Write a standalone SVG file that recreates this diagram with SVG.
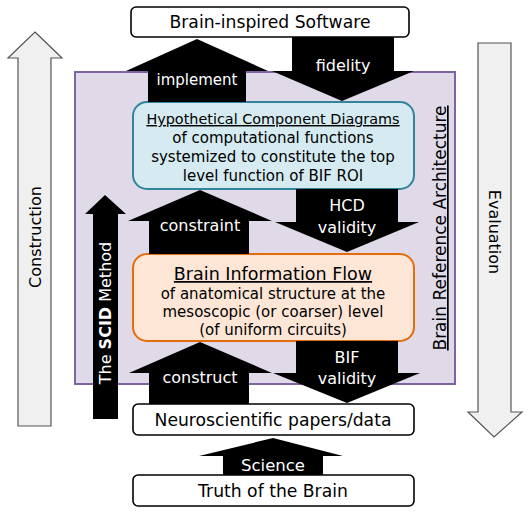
<svg xmlns="http://www.w3.org/2000/svg" width="529" height="515" viewBox="0 0 529 515">
<style>
text{font-family:"DejaVu Sans","Liberation Sans",sans-serif;text-anchor:middle}
.box{fill:#fff;stroke:#000;stroke-width:1.6}
.t{font-size:17.2px;fill:#000}
.w{font-size:16px;fill:#fff}
.in{font-size:15px;fill:#000}
.big{fill:#000}
.side{fill:#f0f0f0;stroke:#555;stroke-width:1.2}
.st{font-size:16px;fill:#000}
</style>
<rect width="529" height="515" fill="#fff"/>
<g id="construction">
<polygon class="side" points="35,32 62,58 51,58 51,426 18,426 18,58 8,58"/>
<text class="st" transform="translate(41,237) rotate(-90)">Construction</text>
</g>
<g id="evaluation">
<polygon class="side" points="478,43 511,43 511,412 522,412 494,437 468,412 478,412"/>
<text class="st" transform="translate(489,232) rotate(90)">Evaluation</text>
</g>
<g id="bra">
<rect x="75" y="72" width="380" height="312" fill="#e0d9e8" stroke="#8064a2" stroke-width="2"/>
<text class="st" style="font-size:17px" text-decoration="underline" transform="translate(446,228) rotate(-90)">Brain Reference Architecture</text>
</g>
<g id="software">
<rect class="box" x="131" y="7" width="278" height="30" rx="5"/>
<text class="t" x="270" y="28">Brain-inspired Software</text>
</g>
<g id="hcd">
<rect x="133" y="102" width="281" height="87" rx="14" fill="#d5ebf1" stroke="#31849b" stroke-width="2"/>
<text class="in" style="font-size:14.4px" x="273" y="124" text-decoration="underline">Hypothetical Component Diagrams</text>
<text class="in" x="273" y="143">of computational functions</text>
<text class="in" x="273" y="162">systemized to constitute the top</text>
<text class="in" x="273" y="181">level function of BIF ROI</text>
</g>
<g id="bif">
<rect x="133" y="254" width="281" height="87" rx="14" fill="#fde6d6" stroke="#e46c0a" stroke-width="2"/>
<text class="in" x="273" y="280" style="font-size:17.5px" text-decoration="underline">Brain Information Flow</text>
<text class="in" x="273" y="299">of anatomical structure at the</text>
<text class="in" x="273" y="317">mesoscopic (or coarser) level</text>
<text class="in" x="273" y="335">(of uniform circuits)</text>
</g>
<g id="neuro">
<rect class="box" x="133" y="404" width="281" height="31" rx="5"/>
<text class="t" x="273" y="426">Neuroscientific papers/data</text>
</g>
<g id="truth">
<rect class="box" x="133" y="475" width="281" height="31" rx="5"/>
<text class="t" x="273" y="497">Truth of the Brain</text>
</g>
<g id="connectors">
<polygon class="big" points="197,39 268,71 246,71 246,102 148,102 148,71 126,71"/>
<text class="w" style="font-size:15px" x="197" y="85">implement</text>
<polygon class="big" points="292,37 394,37 394,71 414,71 342,101 272,71 292,71"/>
<text class="w" x="343" y="71">fidelity</text>
<polygon class="big" points="200,190 272,221 249,221 249,254 149,254 149,221 128,221"/>
<text class="w" x="200" y="231">constraint</text>
<polygon class="big" points="296,189 398,189 398,222 419,222 347,252 275,222 296,222"/>
<text class="w" x="347" y="211">HCD</text>
<text class="w" x="347" y="233">validity</text>
<polygon class="big" points="200,342 272,373 249,373 249,404 149,404 149,373 129,373"/>
<text class="w" x="200" y="383">construct</text>
<polygon class="big" points="296,341 398,341 398,373 420,373 347,403 273,373 296,373"/>
<text class="w" x="347" y="363">BIF</text>
<text class="w" x="347" y="384">validity</text>
<polygon class="big" points="273,438 343,456 323,456 323,475 223,475 223,456 199,456"/>
<text class="w" style="font-size:16.5px" x="273" y="471">Science</text>
<polygon class="big" points="105,195 126,214 118,214 118,419 93,419 93,214 85,214"/>
<text class="w" transform="translate(111,313) rotate(-90)">The <tspan font-weight="bold">SCID</tspan> Method</text>
</g>
</svg>
